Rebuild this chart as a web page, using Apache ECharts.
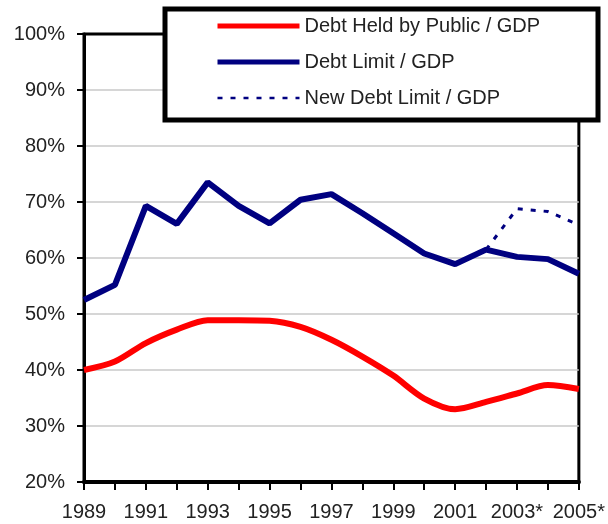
<!DOCTYPE html>
<html>
<head>
<meta charset="utf-8">
<script src="https://cdn.jsdelivr.net/npm/echarts@6/dist/echarts.min.js"></script>
<style>
  html, body { margin: 0; padding: 0; background: #fff; }
  #chart { width: 608px; height: 524px; }
</style>
</head>
<body>
<div id="chart"></div>
<script>
// years on the x axis (projected years marked with *)
const years = ['1989', '1990', '1991', '1992', '1993', '1994', '1995', '1996', '1997',
  '1998', '1999', '2000', '2001', '2002', '2003*', '2004*', '2005*']

// percent of GDP
const debtHeldByPublic = [40, 41.5, 44.8, 47.2, 48.9, 48.9, 48.8, 47.7, 45.4,
  42.4, 39, 34.9, 33, 34.3, 35.8, 37.3, 36.6]
const debtLimit = [52.5, 55.2, 69.3, 66.1, 73.5, 69.3, 66.2, 70.4, 71.4,
  68, 64.4, 60.8, 58.9, 61.5, 60.2, 59.8, 57.2]
const newDebtLimit = [null, null, null, null, null, null, null, null, null,
  null, null, null, null, 61.5, 68.8, 68.3, 65.9]

const chart = echarts.init(document.querySelector('#chart'))
const font = '"Liberation Sans", Arial, sans-serif'

// gridlines are light grey, the one at 100% is the black frame top
const gridColors = ['#c8c8c8', '#c8c8c8', '#c8c8c8', '#c8c8c8', '#c8c8c8',
  '#c8c8c8', '#c8c8c8', '#c8c8c8', '#000']

chart.setOption({
  animation: false,
  grid: {
    left: 84,
    right: 28,
    top: 34,
    bottom: 42,
    show: true,
    borderColor: '#000',
    borderWidth: 3
  },
  graphic: [{
    type: 'rect',
    z: 10,
    shape: { x: 165, y: 9, width: 433, height: 111 },
    style: { fill: '#fff', stroke: '#000', lineWidth: 5 }
  }],
  legend: {
    orient: 'vertical',
    left: 210,
    top: 11,
    z: 20,
    itemWidth: 82,
    itemHeight: 14,
    itemGap: 16,
    itemStyle: { opacity: 0 },
    textStyle: { fontFamily: font, fontSize: 20, color: '#222' },
    data: [
      { name: 'Debt Held by Public / GDP', lineStyle: { width: 5 } },
      { name: 'Debt Limit / GDP', lineStyle: { width: 5 } },
      { name: 'New Debt Limit / GDP', lineStyle: { width: 2.5 } }
    ]
  },
  xAxis: {
    type: 'category',
    boundaryGap: false,
    data: years,
    axisLine: { lineStyle: { color: '#000', width: 4 } },
    axisTick: { interval: 0, length: 8, lineStyle: { color: '#000', width: 2 } },
    axisLabel: {
      interval: 1,
      margin: 20,
      fontFamily: font,
      fontSize: 20,
      color: '#222'
    },
    splitLine: { show: false }
  },
  yAxis: {
    type: 'value',
    min: 20,
    max: 100,
    interval: 10,
    axisLine: { show: true, lineStyle: { color: '#000', width: 3 } },
    axisTick: { show: true, length: 7, lineStyle: { color: '#000', width: 2 } },
    axisLabel: {
      formatter: '{value}%',
      margin: 19,
      fontFamily: font,
      fontSize: 20,
      color: '#222'
    },
    splitLine: { lineStyle: { color: gridColors, width: 1.5 } }
  },
  series: [
    {
      name: 'Debt Held by Public / GDP',
      type: 'line',
      data: debtHeldByPublic,
      smooth: 0.3,
      symbol: 'none',
      color: '#ff0000',
      lineStyle: { color: '#ff0000', width: 6 }
    },
    {
      name: 'Debt Limit / GDP',
      type: 'line',
      data: debtLimit,
      symbol: 'none',
      color: '#000080',
      lineStyle: { color: '#000080', width: 6 }
    },
    {
      name: 'New Debt Limit / GDP',
      type: 'line',
      data: newDebtLimit,
      symbol: 'none',
      color: '#000080',
      lineStyle: { color: '#000080', width: 3, type: [5, 8] }
    }
  ]
})
</script>
</body>
</html>
